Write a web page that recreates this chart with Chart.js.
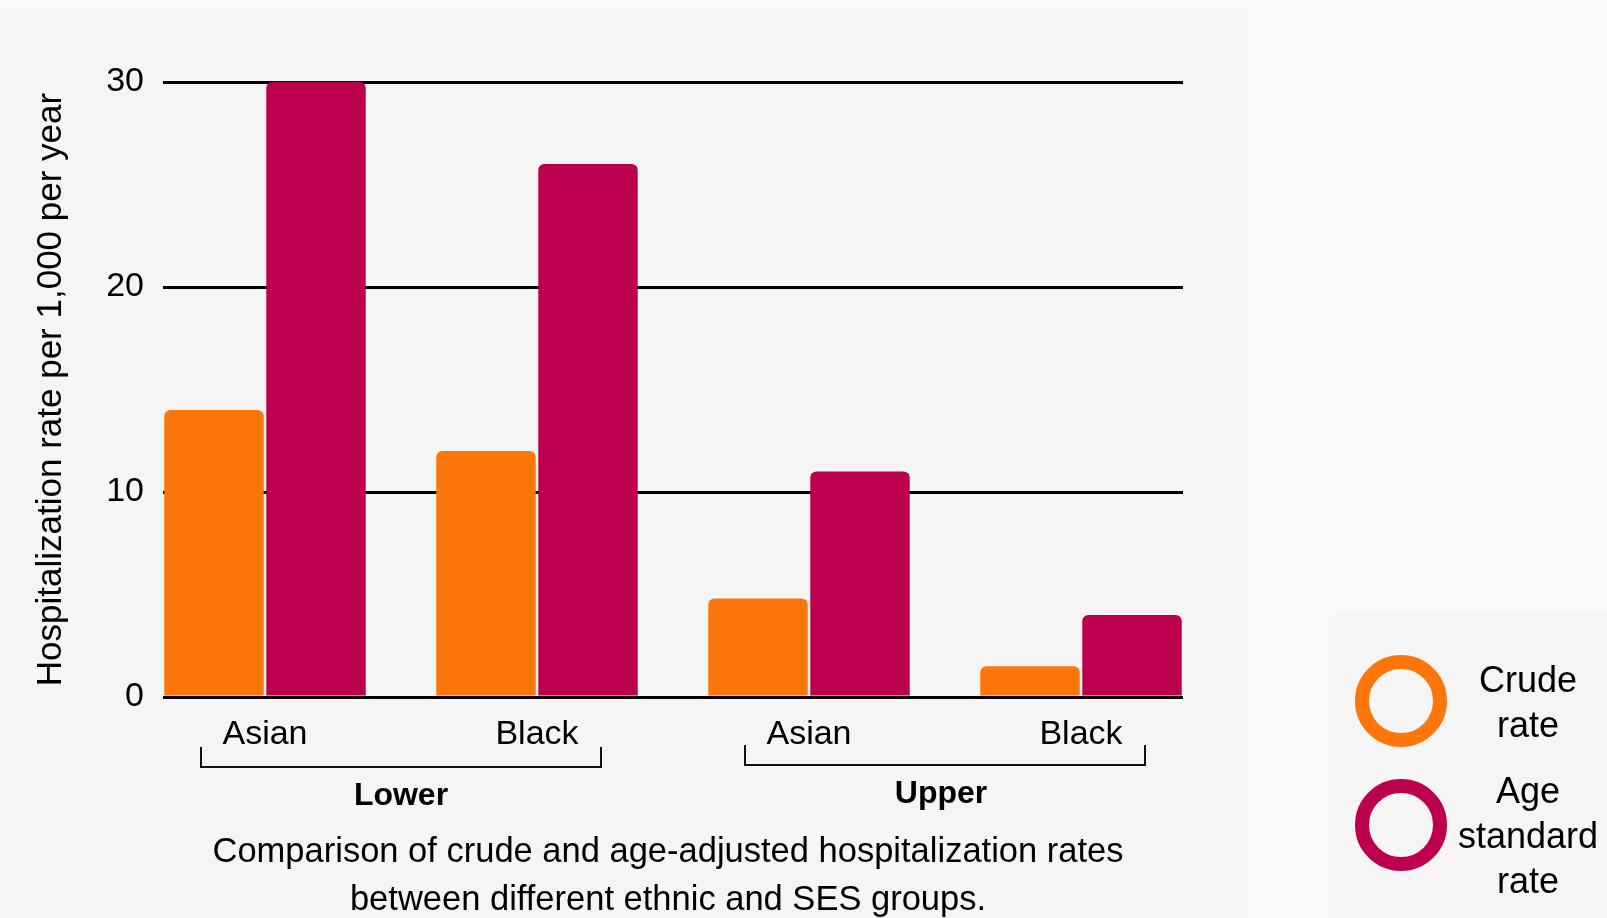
<!DOCTYPE html>
<html>
<head>
<meta charset="utf-8">
<title>Hospitalization rates</title>
<script src="https://cdn.jsdelivr.net/npm/chart.js@4.4.0/dist/chart.umd.min.js"></script>
<style>
  html, body { margin: 0; padding: 0; background: #fafafa; }
  #wrap { width: 1607px; height: 918px; }
</style>
</head>
<body>
<div id="wrap"><canvas id="grafico" width="1607" height="918"></canvas></div>
<script>
// datos
const grupos = ['Lower', 'Upper'];
const etnias = ['Asian', 'Black', 'Asian', 'Black'];
const tasaCruda = [14, 12, 4.8, 1.5];
const tasaEstandar = [30, 26, 11, 4];
const ticksY = [0, 10, 20, 30];
const leyendaCruda = ['Crude', 'rate'];
const leyendaEstandar = ['Age', 'standard', 'rate'];
const pie = ['Comparison of crude and age-adjusted hospitalization rates',
             'between different ethnic and SES groups.'];

const naranja = '#fc760b';
const magenta = '#bc004d';
const fuente = "'Liberation Sans', Arial, sans-serif";

// posiciones en eje lineal: 0..3
const posiciones = etnias.map((e, i) => i);

// paneles de fondo, corchetes de grupo, pie de figura y leyenda
const extras = {
  id: 'extras',
  beforeDraw(chart) {
    const ctx = chart.ctx;
    ctx.save();
    ctx.fillStyle = '#f5f5f5';
    ctx.fillRect(7, 8, 1240, 910);
    ctx.fillRect(1335, 612, 272, 306);
    ctx.restore();
  },
  afterDraw(chart) {
    const ctx = chart.ctx;
    const x = chart.scales.x;
    ctx.save();

    // corchetes debajo de cada grupo
    ctx.strokeStyle = '#111';
    ctx.lineWidth = 2;
    ctx.fillStyle = '#000';
    ctx.font = 'bold 32px ' + fuente;
    ctx.textAlign = 'center';
    ctx.textBaseline = 'alphabetic';
    grupos.forEach((g, i) => {
      const c = x.getPixelForValue(i * 2 + 0.5);
      const l = c - 200, r = c + 200;
      const dy = i * -2;
      ctx.beginPath();
      ctx.moveTo(l, 747 + dy);
      ctx.lineTo(l, 767 + dy);
      ctx.lineTo(r, 767 + dy);
      ctx.lineTo(r, 747 + dy);
      ctx.stroke();
      ctx.fillText(g, c - i * 4, 805 + dy);
    });

    // pie de figura
    ctx.font = '34.5px ' + fuente;
    const cx = (chart.chartArea.left + chart.chartArea.right) / 2;
    ctx.fillText(pie[0], cx - 5, 862);
    ctx.fillText(pie[1], cx - 5, 910);

    // leyenda con anillos
    const items = [
      { color: chart.data.datasets[0].backgroundColor, lineas: leyendaCruda, cy: 701, base: 692 },
      { color: chart.data.datasets[1].backgroundColor, lineas: leyendaEstandar, cy: 825, base: 803 }
    ];
    ctx.font = '36px ' + fuente;
    items.forEach(it => {
      ctx.beginPath();
      ctx.strokeStyle = it.color;
      ctx.lineWidth = 14;
      ctx.arc(1401, it.cy, 39, 0, Math.PI * 2);
      ctx.stroke();
      it.lineas.forEach((t, k) => {
        ctx.fillText(t, 1528, it.base + k * 45);
      });
    });

    ctx.restore();
  }
};

new Chart(document.getElementById('grafico'), {
  type: 'bar',
  data: {
    datasets: [
      {
        label: 'Crude rate',
        data: posiciones.map((p, i) => ({ x: p, y: tasaCruda[i] })),
        backgroundColor: naranja,
        borderRadius: 6
      },
      {
        label: 'Age standard rate',
        data: posiciones.map((p, i) => ({ x: p, y: tasaEstandar[i] })),
        backgroundColor: magenta,
        borderRadius: 6
      }
    ]
  },
  options: {
    responsive: false,
    animation: false,
    categoryPercentage: 0.75,
    barPercentage: 0.975,
    layout: { padding: { left: 0, top: 82, right: 424, bottom: 0 } },
    plugins: {
      legend: { display: false },
      tooltip: { enabled: false }
    },
    scales: {
      x: {
        type: 'linear',
        offset: false,
        min: -0.375,
        max: 3.375,
        afterFit(scale) { scale.height = 221; },
        afterBuildTicks(scale) { scale.ticks = posiciones.map(v => ({ value: v })); },
        grid: { display: false, offset: false },
        border: { display: false },
        ticks: {
          padding: 9,
          color: '#000',
          font: { family: fuente, size: 34 },
          callback: (v) => etnias[v]
        }
      },
      y: {
        min: 0,
        max: 30,
        afterFit(scale) { scale.width = 163; },
        afterBuildTicks(scale) { scale.ticks = ticksY.map(v => ({ value: v })); },
        grid: { color: '#000', lineWidth: 3, drawTicks: false },
        border: { display: false },
        ticks: {
          padding: 19,
          color: '#000',
          font: { family: fuente, size: 34 }
        },
        title: {
          display: true,
          text: 'Hospitalization rate per 1,000 per year',
          color: '#000',
          font: { family: fuente, size: 35 },
          padding: { top: 30, bottom: 0 }
        }
      }
    }
  },
  plugins: [extras]
});
</script>
</body>
</html>
